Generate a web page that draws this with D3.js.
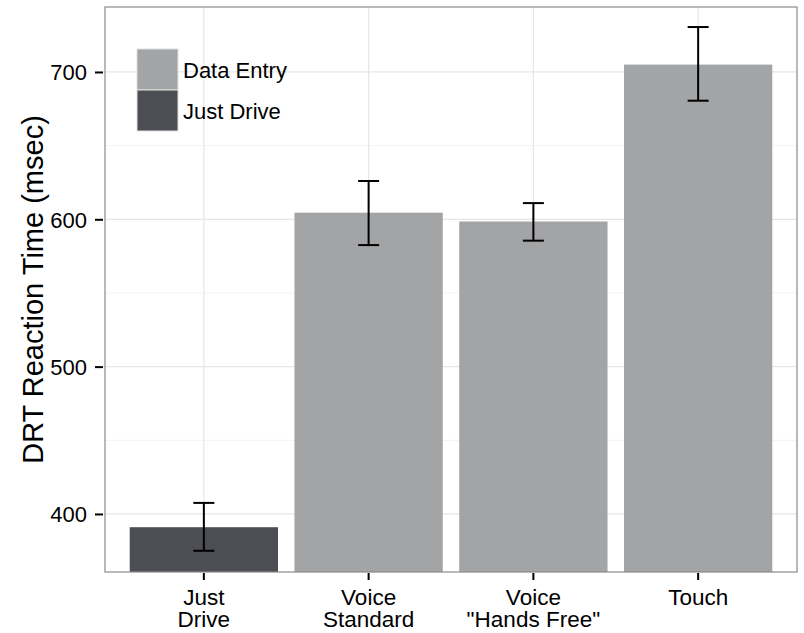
<!DOCTYPE html>
<html>
<head>
<meta charset="utf-8">
<script src="https://cdn.jsdelivr.net/npm/d3@7"></script>
<style>
  body { margin: 0; background: #fff; }
  svg text { font-family: "Liberation Sans", Arial, Helvetica, sans-serif; fill: #000; }
</style>
</head>
<body>
<svg id="chart"></svg>
<script>
var WIDTH = 804,
    HEIGHT = 633,
    margin = {top: 7, right: 7, bottom: 61, left: 105};

// data
var categories = ["Just Drive", "Voice Standard", "Voice \"Hands Free\"", "Touch"],
    catLines = [["Just", "Drive"], ["Voice", "Standard"], ["Voice", "\"Hands Free\""], ["Touch"]],
    groups = ["Just Drive", "Data Entry", "Data Entry", "Data Entry"],
    means = [391, 604.5, 598.5, 705],
    lower = [375, 582.5, 585.5, 680.5],
    upper = [407.5, 626, 611, 730.5],
    yTicks = [400, 500, 600, 700],
    yMinor = [450, 550, 650],
    legendItems = ["Data Entry", "Just Drive"];

var fill = d3.scaleOrdinal()
  .domain(["Data Entry", "Just Drive"])
  .range(["#a3a4a6", "#4d4e53"]);

var w = WIDTH - margin.left - margin.right,
    h = HEIGHT - margin.top - margin.bottom;

var svg = d3.select("#chart").attr("width", WIDTH).attr("height", HEIGHT);
var g = svg.append("g").attr("transform", "translate(" + margin.left + "," + margin.top + ")");

var x = d3.scaleBand().domain(categories).range([0, w]).paddingInner(0.1).paddingOuter(0.15);
var y = d3.scaleLinear().domain([360.6, 744.1]).range([h, 0]);

// grid
g.selectAll("line.minor").data(yMinor).enter().append("line")
  .attr("x1", 0).attr("x2", w)
  .attr("y1", function(d) { return y(d); }).attr("y2", function(d) { return y(d); })
  .attr("stroke", "#f3f3f3").attr("stroke-width", 1);
g.selectAll("line.major").data(yTicks).enter().append("line")
  .attr("x1", 0).attr("x2", w)
  .attr("y1", function(d) { return y(d); }).attr("y2", function(d) { return y(d); })
  .attr("stroke", "#e6e6e6").attr("stroke-width", 1.2);
g.selectAll("line.vgrid").data(categories).enter().append("line")
  .attr("y1", 0).attr("y2", h)
  .attr("x1", function(d) { return x(d) + x.bandwidth() / 2; })
  .attr("x2", function(d) { return x(d) + x.bandwidth() / 2; })
  .attr("stroke", "#e6e6e6").attr("stroke-width", 1.2);

// bars
g.selectAll("rect.bar").data(categories).enter().append("rect")
  .attr("x", function(d) { return x(d); })
  .attr("width", x.bandwidth())
  .attr("y", function(d, i) { return y(means[i]); })
  .attr("height", function(d, i) { return h - y(means[i]); })
  .attr("fill", function(d, i) { return fill(groups[i]); });

// error bars
var capHalf = 10.5;
var eb = g.selectAll("g.err").data(categories).enter().append("g")
  .attr("transform", function(d) { return "translate(" + (x(d) + x.bandwidth() / 2) + ",0)"; });
eb.append("line")
  .attr("y1", function(d, i) { return y(lower[i]); })
  .attr("y2", function(d, i) { return y(upper[i]); })
  .attr("stroke", "#000").attr("stroke-width", 2);
eb.append("line")
  .attr("x1", -capHalf).attr("x2", capHalf)
  .attr("y1", function(d, i) { return y(lower[i]); })
  .attr("y2", function(d, i) { return y(lower[i]); })
  .attr("stroke", "#000").attr("stroke-width", 2);
eb.append("line")
  .attr("x1", -capHalf).attr("x2", capHalf)
  .attr("y1", function(d, i) { return y(upper[i]); })
  .attr("y2", function(d, i) { return y(upper[i]); })
  .attr("stroke", "#000").attr("stroke-width", 2);

// panel border
g.append("rect").attr("width", w).attr("height", h)
  .attr("fill", "none").attr("stroke", "#8a8a8a").attr("stroke-width", 1.2);

// y axis
var yAxis = g.append("g").call(d3.axisLeft(y).tickValues(yTicks).tickSize(9).tickPadding(9));
yAxis.select(".domain").remove();
yAxis.selectAll(".tick line").attr("stroke", "#000").attr("stroke-width", 2).attr("x2", -10).attr("x1", -2);
yAxis.selectAll(".tick text").style("font-size", "22px").attr("x", -18).attr("dy", "0.36em");

// x axis
var xAxis = g.append("g").attr("transform", "translate(0," + h + ")")
  .call(d3.axisBottom(x).tickSize(8).tickFormat(""));
xAxis.select(".domain").remove();
xAxis.selectAll(".tick line").attr("stroke", "#000").attr("stroke-width", 2).attr("y1", 1);
xAxis.selectAll(".tick").each(function(d, i) {
  var t = d3.select(this).append("text")
    .attr("text-anchor", "middle")
    .attr("y", 33)
    .style("font-size", "22.5px");
  catLines[i].forEach(function(line, j) {
    t.append("tspan").attr("x", 0).attr("dy", j === 0 ? 0 : 22).text(line);
  });
});

// y title
svg.append("text")
  .attr("transform", "translate(43," + (margin.top + h / 2) + ") rotate(-90)")
  .attr("text-anchor", "middle")
  .style("font-size", "29px")
  .text("DRT Reaction Time (msec)");

// legend
var keySize = 41;
var legend = svg.append("g").attr("transform", "translate(137,49)");
var li = legend.selectAll("g").data(legendItems).enter().append("g")
  .attr("transform", function(d, i) { return "translate(0," + (i * keySize) + ")"; });
li.append("rect")
  .attr("width", keySize).attr("height", keySize)
  .attr("fill", function(d) { return fill(d); })
  .attr("stroke", "#e0e0e0").attr("stroke-width", 1);
li.append("text")
  .attr("x", keySize + 5).attr("y", keySize / 2).attr("dy", "0.4em")
  .style("font-size", "22px")
  .text(function(d) { return d; });
</script>
</body>
</html>
